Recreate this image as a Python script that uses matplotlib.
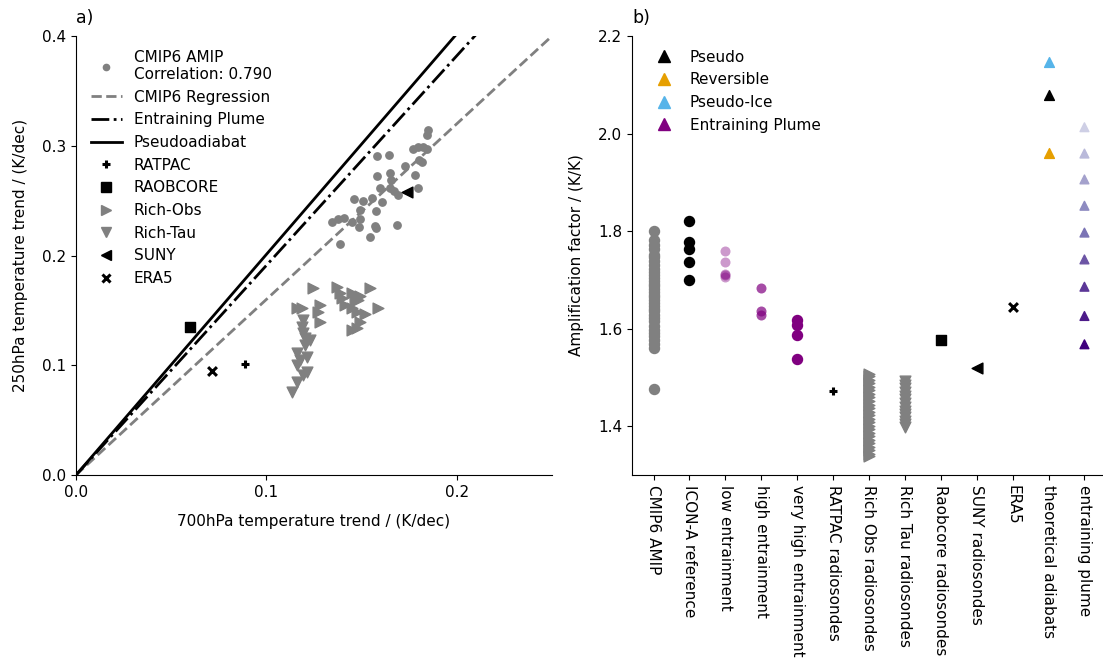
import numpy as np
import matplotlib
matplotlib.use("Agg")
import matplotlib.pyplot as plt
from matplotlib.lines import Line2D

plt.rcParams["font.family"] = ["DejaVu Sans"]
plt.rcParams["font.size"] = 11

# ---------------- panel a) data: 700 hPa vs 250 hPa temperature trends (K/dec)
cmip6_x = [0.1849, 0.1841, 0.1771, 0.1797, 0.1820, 0.1841, 0.1802, 0.1818,
           0.1582, 0.1643, 0.1727, 0.1780, 0.1582, 0.1648, 0.1652, 0.1596,
           0.1648, 0.1669, 0.1692, 0.1797, 0.1461, 0.1508, 0.1557, 0.1605,
           0.1494, 0.1578, 0.1342, 0.1377, 0.1407, 0.1447, 0.1491, 0.1487,
           0.1570, 0.1575, 0.1687, 0.1543, 0.1386]
cmip6_y = [0.3143, 0.3098, 0.2968, 0.2991, 0.2986, 0.2968, 0.2870, 0.2855,
           0.2907, 0.2916, 0.2815, 0.2733, 0.2724, 0.2749, 0.2688, 0.2612,
           0.2612, 0.2590, 0.2551, 0.2612, 0.2515, 0.2497, 0.2521, 0.2490,
           0.2415, 0.2408, 0.2308, 0.2330, 0.2339, 0.2308, 0.2330, 0.2262,
           0.2269, 0.2248, 0.2278, 0.2171, 0.2105]
correlation = 0.790

richobs_x = [0.1246, 0.1369, 0.1386, 0.1447, 0.1491, 0.1482, 0.1543, 0.1159,
             0.1185, 0.1281, 0.1272, 0.1412, 0.1447, 0.1474, 0.1517, 0.1587,
             0.1281, 0.1491, 0.1447, 0.1474, 0.1465, 0.1395]
richobs_y = [0.1701, 0.1716, 0.1656, 0.1656, 0.1634, 0.1595, 0.1701, 0.1519,
             0.1524, 0.1549, 0.1488, 0.1549, 0.1519, 0.1488, 0.1464, 0.1519,
             0.1397, 0.1397, 0.1321, 0.1337, 0.1595, 0.1610]

richtau_x = [0.1193, 0.1185, 0.1193, 0.1228, 0.1202, 0.1159, 0.1211, 0.1159,
             0.1211, 0.1193, 0.1159, 0.1132, 0.1176, 0.1202]
richtau_y = [0.1412, 0.1351, 0.1291, 0.1230, 0.1185, 0.1109, 0.1078, 0.1002,
             0.0941, 0.0911, 0.0850, 0.0759, 0.1048, 0.1246]

ratpac_xy = (0.0887, 0.1011)
raobcore_xy = (0.0598, 0.1349)
suny_xy = (0.1738, 0.2579)
era5_xy = (0.0714, 0.0948)

# slopes of the reference lines (250 hPa trend per 700 hPa trend)
slope_regression = 1.60
slope_plume = 1.91
slope_pseudo = 2.01

# ---------------- panel b) data: amplification factors (K/K)
categories = ["CMIP6 AMIP", "ICON-A reference", "low entrainment",
              "high entrainment", "very high entrainment", "RATPAC radiosondes",
              "Rich Obs radiosondes", "Rich Tau radiosondes",
              "Raobcore radiosondes", "SUNY radiosondes", "ERA5",
              "theoretical adiabats", "entraining plume"]

amf_cmip6 = [1.801, 1.781, 1.772, 1.763, 1.752, 1.747, 1.738, 1.731, 1.722,
             1.716, 1.709, 1.703, 1.698, 1.691, 1.687, 1.681, 1.676, 1.669,
             1.664, 1.658, 1.652, 1.647, 1.641, 1.636, 1.629, 1.622, 1.615,
             1.606, 1.598, 1.592, 1.584, 1.576, 1.568, 1.561, 1.476]
amf_icon = [1.820, 1.777, 1.763, 1.736, 1.700]
amf_low = [1.760, 1.736, 1.712, 1.709, 1.706]
amf_high = [1.683, 1.636, 1.627]
amf_vhigh = [1.617, 1.607, 1.587, 1.537]
amf_ratpac = 1.472
amf_richobs = [1.508, 1.502, 1.495, 1.488, 1.481, 1.474, 1.466, 1.459, 1.451,
               1.444, 1.437, 1.430, 1.423, 1.415, 1.408, 1.401, 1.394, 1.387,
               1.379, 1.372, 1.365, 1.358, 1.351, 1.344, 1.339]
amf_richtau = [1.493, 1.485, 1.478, 1.470, 1.462, 1.455, 1.447, 1.440, 1.432,
               1.425, 1.418, 1.411, 1.404, 1.398]
amf_raobcore = 1.577
amf_suny = 1.519
amf_era5 = 1.645
amf_pseudo = 2.079
amf_reversible = 1.960
amf_pseudo_ice = 2.147
amf_plume = [2.013, 1.959, 1.906, 1.852, 1.797, 1.742, 1.686, 1.626, 1.568]

GRAY = "gray"
PURPLE = "purple"
ORANGE = "#E69F00"
SKY = "#56B4E9"

fig = plt.figure(figsize=(11.03, 6.68), dpi=100)
W, H = 1103, 668
ax1 = fig.add_axes([76 / W, (H - 475) / H, 476 / W, 439 / H])
ax2 = fig.add_axes([632 / W, (H - 475) / H, 474 / W, 439 / H])

for ax in (ax1, ax2):
    ax.spines["top"].set_visible(False)
    ax.spines["right"].set_visible(False)

# ---------------- panel a)
xs = np.array([0.0, 0.25])
ax1.scatter(cmip6_x, cmip6_y, s=28, color=GRAY, zorder=3)
ax1.plot(xs, slope_regression * xs, ls=(0, (3.7, 1.6)), color=GRAY, lw=2)
ax1.plot(xs, slope_plume * xs, ls="-.", color="black", lw=2)
ax1.plot(xs, slope_pseudo * xs, ls="-", color="black", lw=2)
ax1.scatter(*ratpac_xy, marker="+", s=40, color="black", linewidths=2.2,
            zorder=4)
ax1.scatter(*raobcore_xy, marker="s", s=55, color="black", zorder=4)
ax1.scatter(richobs_x, richobs_y, marker=">", s=60, color=GRAY, zorder=3)
ax1.scatter(richtau_x, richtau_y, marker="v", s=60, color=GRAY, zorder=3)
ax1.scatter(*suny_xy, marker="<", s=60, color="black", zorder=4)
ax1.scatter(*era5_xy, marker="x", s=40, color="black", linewidths=2.2,
            zorder=4)

handles_a = [
    Line2D([], [], ls="none", marker="o", ms=4.5, color=GRAY,
           label=f"CMIP6 AMIP\nCorrelation: {correlation:.3f}"),
    Line2D([], [], ls=(0, (3.7, 1.6)), lw=2, color=GRAY,
           label="CMIP6 Regression"),
    Line2D([], [], ls="-.", lw=2, color="black", label="Entraining Plume"),
    Line2D([], [], ls="-", lw=2, color="black", label="Pseudoadiabat"),
    Line2D([], [], ls="none", marker="+", ms=6, mew=2.2, color="black",
           label="RATPAC"),
    Line2D([], [], ls="none", marker="s", ms=7, color="black",
           label="RAOBCORE"),
    Line2D([], [], ls="none", marker=">", ms=7.5, color=GRAY,
           label="Rich-Obs"),
    Line2D([], [], ls="none", marker="v", ms=7.5, color=GRAY,
           label="Rich-Tau"),
    Line2D([], [], ls="none", marker="<", ms=7.5, color="black",
           label="SUNY"),
    Line2D([], [], ls="none", marker="x", ms=6, mew=2.2, color="black",
           label="ERA5"),
]

ax1.set_xlim(0, 0.25)
ax1.set_ylim(0, 0.4)
ax1.set_xticks([0.0, 0.1, 0.2])
ax1.set_yticks([0.0, 0.1, 0.2, 0.3, 0.4])
ax1.set_xlabel("700hPa temperature trend / (K/dec)", labelpad=10)
ax1.set_ylabel("250hPa temperature trend / (K/dec)", labelpad=10)
ax1.legend(handles=handles_a, loc="upper left", frameon=False,
           bbox_to_anchor=(0.003, 1.0), labelspacing=0.5)
ax1.text(0.0, 1.02, "a)", transform=ax1.transAxes, fontsize=12.5,
         ha="left", va="bottom")

# ---------------- panel b)
pos = np.arange(len(categories))
ms = 52
ax2.scatter([pos[0]] * len(amf_cmip6), amf_cmip6, s=ms, color=GRAY, zorder=3)
ax2.scatter([pos[1]] * len(amf_icon), amf_icon, s=ms, color="black", zorder=3)
ax2.scatter([pos[2]] * len(amf_low), amf_low, s=ms, color=PURPLE, alpha=0.4,
            linewidths=0, zorder=3)
ax2.scatter([pos[3]] * len(amf_high), amf_high, s=ms, color=PURPLE, alpha=0.7,
            linewidths=0, zorder=3)
ax2.scatter([pos[4]] * len(amf_vhigh), amf_vhigh, s=ms, color=PURPLE,
            zorder=3)
ax2.scatter(pos[5], amf_ratpac, marker="+", s=40, color="black",
            linewidths=2.2, zorder=3)
ax2.scatter([pos[6]] * len(amf_richobs), amf_richobs, marker=">", s=60,
            color=GRAY, zorder=3)
ax2.scatter([pos[7]] * len(amf_richtau), amf_richtau, marker="v", s=60,
            color=GRAY, zorder=3)
ax2.scatter(pos[8], amf_raobcore, marker="s", s=60, color="black", zorder=3)
ax2.scatter(pos[9], amf_suny, marker="<", s=60, color="black", zorder=3)
ax2.scatter(pos[10], amf_era5, marker="x", s=40, color="black",
            linewidths=2.2, zorder=3)
ax2.scatter(pos[11], amf_pseudo, marker="^", s=50, color="black", zorder=3)
ax2.scatter(pos[11], amf_reversible, marker="^", s=50, color=ORANGE, zorder=3)
ax2.scatter(pos[11], amf_pseudo_ice, marker="^", s=50, color=SKY, zorder=3)
plume_colors = plt.cm.Purples(np.linspace(0.3, 1.0, len(amf_plume)))
ax2.scatter([pos[12]] * len(amf_plume), amf_plume, marker="^", s=40,
            color=plume_colors, zorder=3)

ax2.set_xlim(-0.6, 12.6)
ax2.set_ylim(1.3, 2.2)
ax2.set_yticks([1.4, 1.6, 1.8, 2.0, 2.2])
ax2.set_xticks(pos)
ax2.set_xticklabels(categories, rotation=-90)
ax2.set_ylabel("Amplification factor / (K/K)", labelpad=10)

handles_b = [
    Line2D([], [], ls="none", marker="^", ms=8, color="black", label="Pseudo"),
    Line2D([], [], ls="none", marker="^", ms=8, color=ORANGE,
           label="Reversible"),
    Line2D([], [], ls="none", marker="^", ms=8, color=SKY, label="Pseudo-Ice"),
    Line2D([], [], ls="none", marker="^", ms=8, color=PURPLE,
           label="Entraining Plume"),
]
ax2.legend(handles=handles_b, loc="upper left", frameon=False,
           bbox_to_anchor=(0.006, 1.0), labelspacing=0.5, handletextpad=0.7)
ax2.text(0.0, 1.02, "b)", transform=ax2.transAxes, fontsize=12.5,
         ha="left", va="bottom")

fig.savefig("out.png", dpi=100)
